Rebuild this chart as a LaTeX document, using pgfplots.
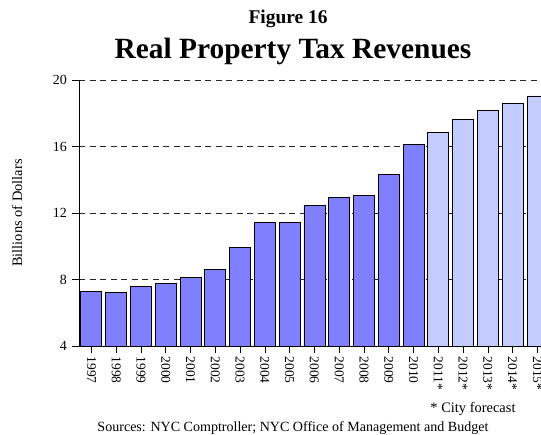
\documentclass[border=0pt]{standalone}
\usepackage{fontspec}
\setmainfont{Liberation Serif}
\usepackage{pgfplots}
\pgfplotsset{compat=1.18}
\definecolor{darkbar}{RGB}{128,128,255}
\definecolor{lightbar}{RGB}{196,204,255}
\begin{document}
\begin{tikzpicture}
\useasboundingbox (0bp,0bp) rectangle (541bp,435bp);
\clip (0bp,0bp) rectangle (541bp,435bp);
\begin{axis}[
  at={(79bp,89bp)}, anchor=south west,
  scale only axis, width=470.8bp, height=266bp,
  xmin=-0.5, xmax=18.5, ymin=4, ymax=20,
  ytick={4,8,12,16,20},
  xtick={0,...,18},
  xticklabels={1997,1998,1999,2000,2001,2002,2003,2004,2005,2006,2007,2008,2009,2010,2011*,2012*,2013*,2014*,2015*},
  axis x line*=bottom, axis y line*=left,
  axis line style={black, line width=0.8bp, -},
  tick align=outside, major tick length=7bp,
  tick style={black, line width=0.6bp},
  ymajorgrids,
  major grid style={black!85, line width=0.8bp, dash pattern=on 6bp off 4.5bp},
  /pgf/number format/assume math mode=true,
  tick label style={font=\fontsize{14}{16}\selectfont},
  yticklabel style={inner sep=5bp},
  xticklabel style={rotate=-90, anchor=west, inner sep=3.5bp, font=\fontsize{13.5}{15}\selectfont},
  ybar, bar width=21bp,
  clip=true,
]
\addplot[fill=darkbar, draw=black, line width=0.8bp, bar shift=0pt] coordinates {
  (0,7.30) (1,7.22) (2,7.58) (3,7.77) (4,8.13) (5,8.63) (6,9.91)
  (7,11.41) (8,11.41) (9,12.45) (10,12.95) (11,13.03) (12,14.31) (13,16.14)
};
\addplot[fill=lightbar, draw=black, line width=0.8bp, bar shift=0pt] coordinates {
  (14,16.82) (15,17.60) (16,18.16) (17,18.60) (18,19.04)
};
\end{axis}
\node[anchor=base, font=\bfseries\fontsize{19.5}{21}\selectfont] at (288bp,411bp) {Figure 16};
\node[anchor=base, font=\bfseries\fontsize{29.5}{31}\selectfont] at (293bp,376bp) {Real Property Tax Revenues};
\node[rotate=90, font=\fontsize{14.5}{16}\selectfont] at (17bp,222bp) {Billions of Dollars};
\node[anchor=base, font=\fontsize{14.5}{16}\selectfont] at (473bp,22.5bp) {* City forecast};
\node[anchor=base, font=\fontsize{14.1}{16}\selectfont] at (293bp,3.2bp) {Sources: NYC Comptroller; NYC Office of Management and Budget};
\end{tikzpicture}
\end{document}
